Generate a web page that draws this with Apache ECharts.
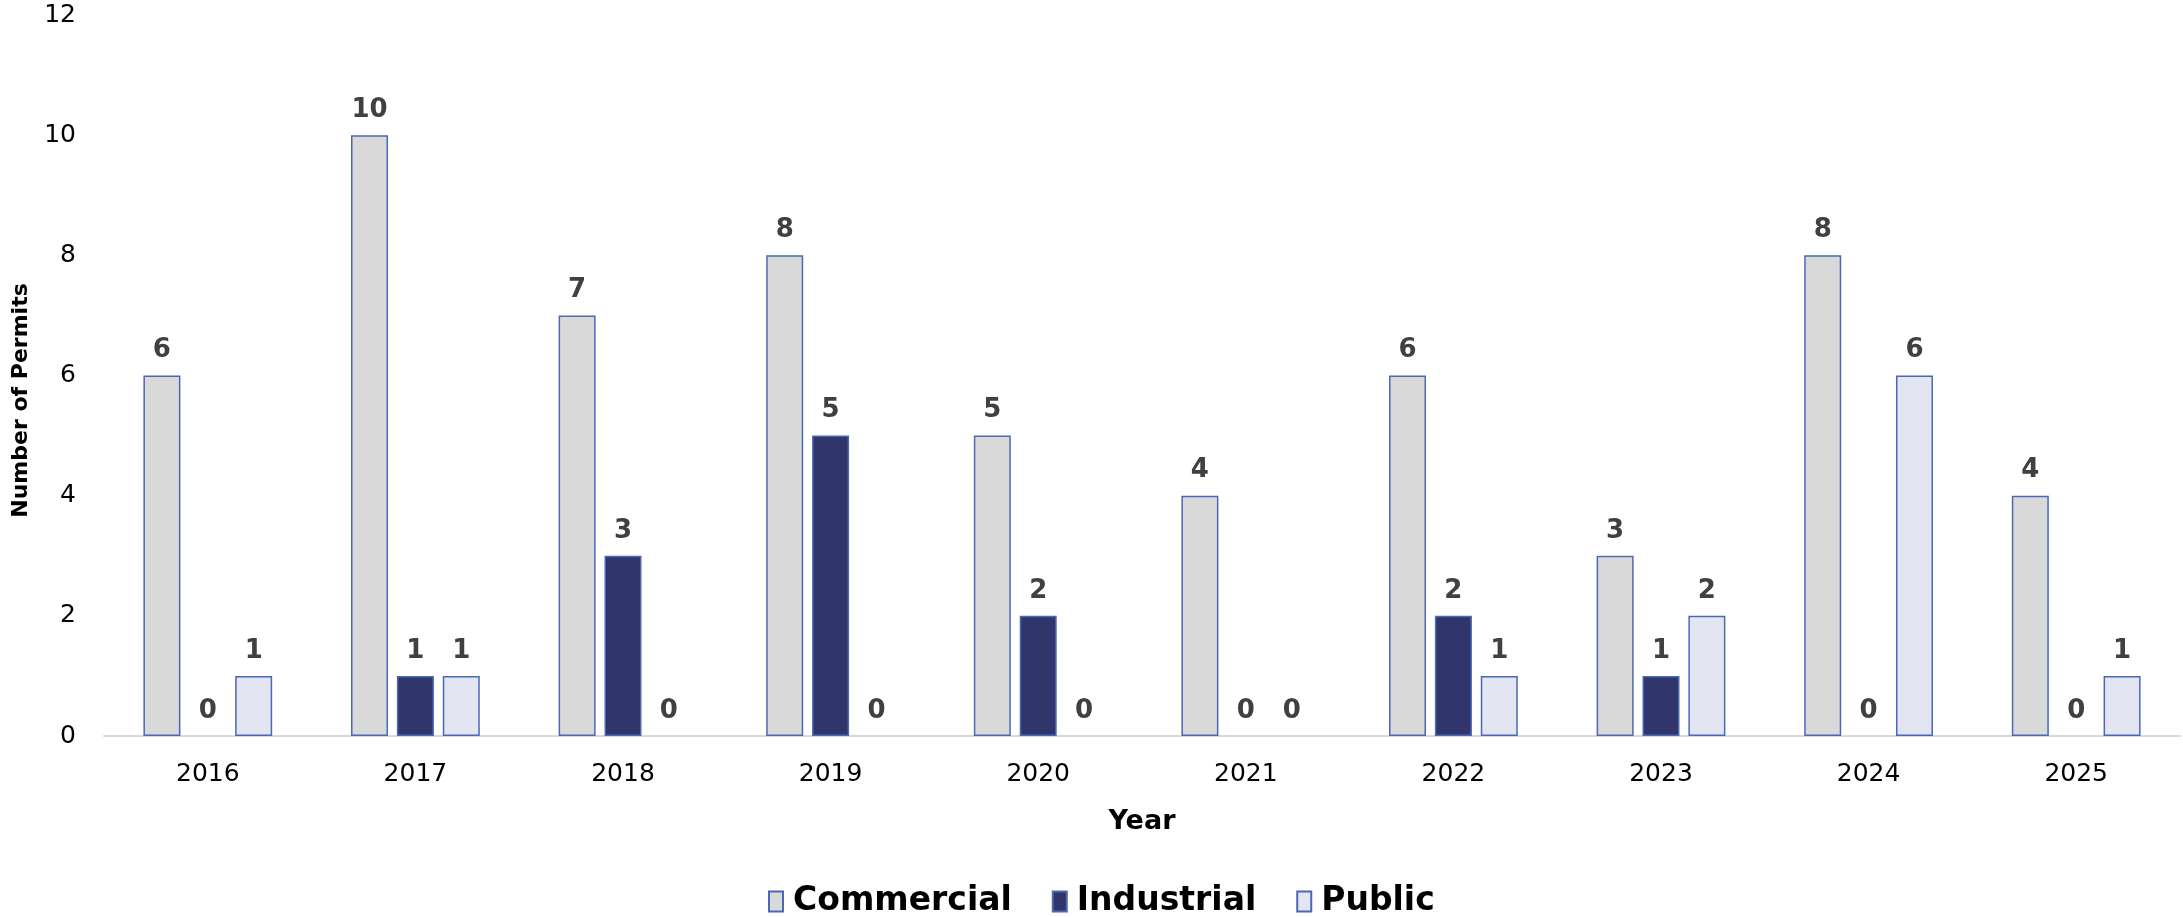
<!DOCTYPE html>
<html>
<head>
    <meta charset="utf-8">
    <title>Number of Permits by Year</title>
    <script src="https://cdn.jsdelivr.net/npm/echarts@6/dist/echarts.min.js"></script>
    <style>
        html, body { margin: 0; padding: 0; background: #fff; }
        #chart { width: 2183px; height: 917px; }
    </style>
</head>
<body>
<div id="chart"></div>
<script type="text/javascript">
    // data
    var years = ['2016', '2017', '2018', '2019', '2020', '2021', '2022', '2023', '2024', '2025'];
    var commercial = [6, 10, 7, 8, 5, 4, 6, 3, 8, 4];
    var industrial = [0, 1, 3, 5, 2, 0, 2, 1, 0, 0];
    var publicPermits = [1, 1, 0, 0, 0, 0, 1, 2, 6, 1];

    var font = 'DejaVu Sans';
    var borderBlue = '#4A68B4';

    function barSeries(name, data, fill) {
        return {
            name: name,
            type: 'bar',
            // zero bars get no outline, otherwise a blue line shows on the axis
            data: data.map(function (v) {
                return v === 0 ? { value: v, itemStyle: { borderWidth: 0 } } : v;
            }),
            barWidth: 37,
            barGap: '24%',
            itemStyle: { color: fill, borderColor: borderBlue, borderWidth: 1.5 },
            label: {
                show: true,
                position: 'top',
                distance: 12,
                color: '#404040',
                fontFamily: font,
                fontWeight: 'bold',
                fontSize: 26
            }
        };
    }

    var myChart = echarts.init(document.getElementById('chart'));
    myChart.setOption({
        animation: false,
        textStyle: { fontFamily: font },
        grid: { left: 104, right: 3, top: 15, bottom: 181, containLabel: false },
        legend: {
            data: ['Commercial', 'Industrial', 'Public'],
            left: 763,
            top: 880,
            icon: 'rect',
            itemWidth: 14,
            itemHeight: 20,
            itemGap: 40,
            textStyle: { fontFamily: font, fontWeight: 'bold', fontSize: 33, color: '#000', padding: [0, 0, 0, 5] }
        },
        xAxis: {
            type: 'category',
            data: years,
            name: 'Year',
            nameLocation: 'middle',
            nameGap: 72,
            nameTextStyle: { fontFamily: font, fontWeight: 'bold', fontSize: 27, color: '#000' },
            axisLine: { lineStyle: { color: '#D9D9D9', width: 2 } },
            axisTick: { show: false },
            axisLabel: { fontFamily: font, fontSize: 25, color: '#000', margin: 26 }
        },
        yAxis: {
            type: 'value',
            min: 0,
            max: 12,
            interval: 2,
            name: 'Number of Permits',
            nameLocation: 'middle',
            nameGap: 72,
            nameTextStyle: { fontFamily: font, fontWeight: 'bold', fontSize: 22, color: '#000', padding: [0, 50, 0, 0] },
            axisLine: { show: false },
            axisTick: { show: false },
            splitLine: { show: false },
            axisLabel: { fontFamily: font, fontSize: 25, color: '#000', margin: 28 }
        },
        series: [
            barSeries('Commercial', commercial, '#D9D9D9'),
            barSeries('Industrial', industrial, '#30356B'),
            barSeries('Public', publicPermits, '#E3E5F2')
        ]
    });
</script>
</body>
</html>
